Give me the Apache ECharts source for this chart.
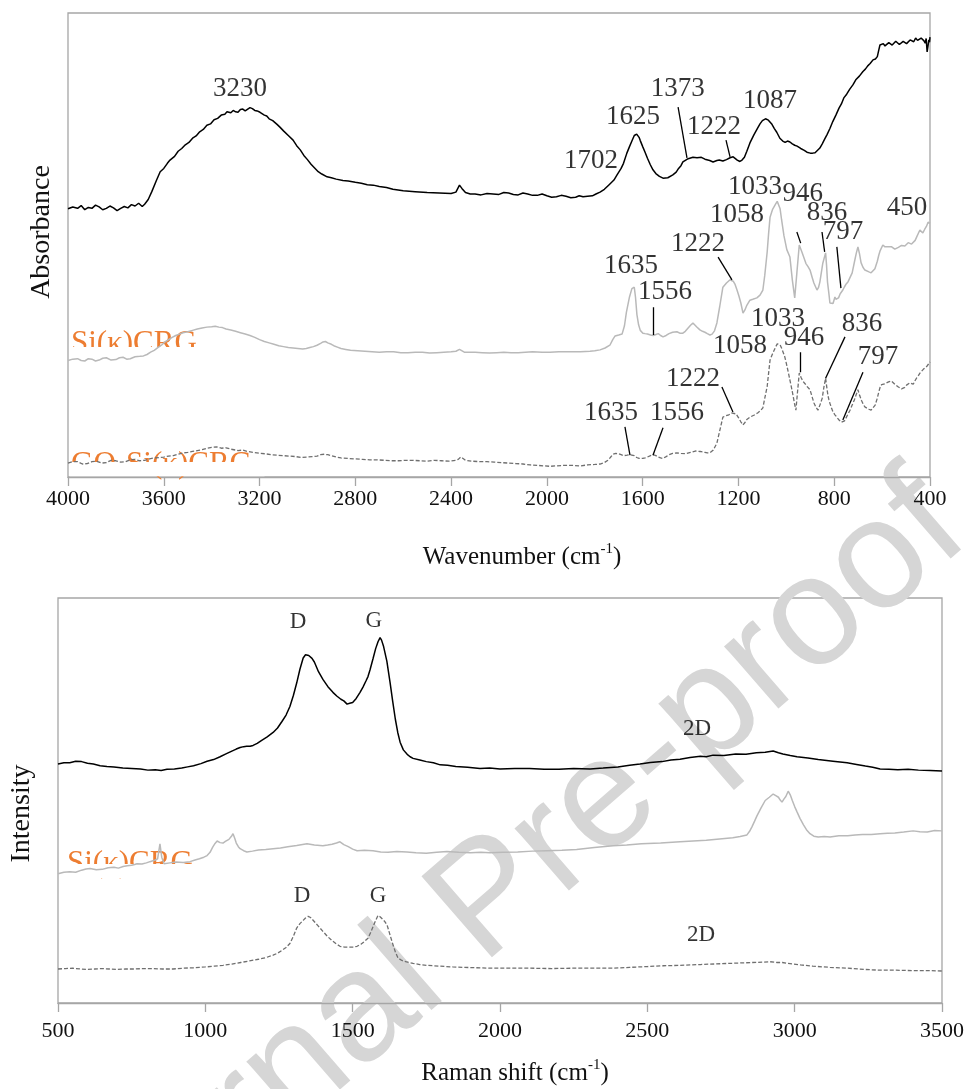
<!DOCTYPE html>
<html>
<head>
<meta charset="utf-8">
<script src="https://cdn.jsdelivr.net/npm/echarts@6/dist/echarts.min.js"></script>
<style>
  html, body { margin: 0; padding: 0; background: #ffffff; }
  #chart { width: 971px; height: 1089px; }
</style>
</head>
<body>
<div id="chart"></div>
<script>
// ---------- FTIR spectra: [wavenumber (cm-1), absorbance (a.u., offset)] ----------
const ftirBlack = [
  [4000,57.8],[3980,58.2],[3960,57.9],[3945,58.5],[3930,57.6],[3915,58.1],[3900,57.9],[3885,58.6],
  [3870,58.2],[3855,57.6],[3840,57.9],[3825,58.4],[3810,58.0],[3795,57.4],[3780,57.9],[3765,58.3],
  [3750,58.0],[3735,58.7],[3720,58.4],[3705,59.0],[3690,58.3],[3680,58.8],[3665,59.8],[3650,61.5],
  [3630,64.0],[3615,65.8],[3600,66.5],[3585,67.6],[3574,68.3],[3555,69.1],[3540,70.2],[3525,70.8],
  [3510,71.6],[3495,72.1],[3478,73.1],[3465,73.5],[3450,74.4],[3435,74.9],[3420,75.8],[3405,76.1],
  [3390,77.0],[3375,77.3],[3360,78.0],[3345,78.2],[3336,78.7],[3320,78.5],[3310,79.0],[3300,78.7],
  [3290,78.6],[3280,79.2],[3270,79.3],[3260,78.9],[3252,79.1],[3240,79.6],[3230,79.4],[3220,79.0],
  [3210,78.9],[3198,78.6],[3190,78.8],[3180,78.0],[3170,77.8],[3160,77.2],[3145,76.8],[3127,76.0],
  [3115,75.4],[3100,74.6],[3080,73.6],[3060,72.6],[3045,71.4],[3030,70.5],[3015,69.3],[3000,68.4],
  [2985,67.4],[2970,66.6],[2955,65.8],[2940,65.3],[2918,64.7],[2900,64.5],[2880,64.2],[2852,63.9],
  [2830,63.8],[2800,63.5],[2775,63.3],[2750,63.0],[2725,62.9],[2700,62.6],[2670,62.4],[2643,62.0],
  [2600,61.7],[2550,61.5],[2500,61.3],[2450,61.2],[2400,61.1],[2380,61.4],[2365,62.9],[2355,62.2],
  [2340,61.3],[2320,61.0],[2300,61.0],[2275,60.8],[2250,61.1],[2225,61.0],[2200,60.9],[2180,61.3],
  [2160,61.2],[2140,60.9],[2120,60.8],[2100,61.2],[2080,61.0],[2060,60.7],[2040,60.7],[2020,61.0],
  [2000,60.6],[1980,60.3],[1960,60.4],[1940,60.7],[1920,60.5],[1900,60.2],[1880,60.3],[1865,60.6],
  [1849,60.4],[1830,60.5],[1810,60.6],[1795,61.0],[1778,61.4],[1760,62.0],[1740,63.0],[1720,64.0],
  [1707,65.1],[1690,66.5],[1680,67.6],[1666,69.8],[1655,71.2],[1645,72.4],[1635,73.6],[1625,73.9],
  [1615,73.2],[1610,72.5],[1599,71.1],[1590,70.0],[1580,68.7],[1568,67.3],[1557,66.2],[1545,65.4],
  [1530,64.8],[1515,64.4],[1495,64.5],[1474,65.1],[1460,65.7],[1450,66.5],[1440,67.1],[1432,67.9],
  [1420,68.3],[1410,68.6],[1390,68.9],[1373,68.8],[1355,68.9],[1340,68.5],[1320,68.2],[1306,67.9],
  [1290,68.2],[1280,68.3],[1265,68.1],[1250,68.4],[1235,68.8],[1222,69.0],[1205,68.3],[1194,68.0],
  [1185,68.3],[1175,68.9],[1165,70.2],[1152,72.0],[1135,73.8],[1120,75.2],[1110,76.1],[1100,76.8],
  [1087,77.2],[1075,76.9],[1060,76.0],[1050,75.1],[1040,74.3],[1027,73.0],[1015,72.4],[1005,72.1],
  [995,72.4],[985,72.2],[975,71.8],[965,71.5],[955,71.3],[940,70.8],[925,70.4],[914,70.0],
  [900,69.8],[890,69.8],[880,69.9],[873,70.2],[860,70.9],[850,71.8],[840,72.8],[830,73.8],
  [818,75.1],[806,76.6],[793,78.0],[780,79.5],[770,80.4],[760,81.7],[748,82.5],[735,83.6],
  [722,84.5],[710,85.6],[695,86.4],[680,87.4],[670,87.9],[660,88.6],[650,89.1],[638,89.9],
  [628,90.1],[620,90.6],[614,92.0],[609,93.1],[602,93.0],[595,93.4],[588,92.9],[580,93.0],
  [572,93.6],[565,93.5],[558,93.1],[550,93.3],[543,93.9],[535,93.7],[528,93.2],[520,93.4],
  [512,93.9],[505,94.0],[498,93.4],[490,93.6],[483,94.2],[475,94.3],[468,93.8],[460,94.6],
  [452,94.1],[445,93.9],[437,94.6],[430,94.8],[425,94.0],[420,93.5],[416,94.5],[412,91.6],
  [408,93.0],[405,94.2],[402,93.7],[400,94.8]
];

const ftirGray = [
  [4000,25.1],[3980,25.4],[3960,25.5],[3945,25.1],[3930,25.0],[3915,25.5],[3900,25.4],[3885,25.0],
  [3870,25.2],[3855,25.6],[3840,25.7],[3820,25.2],[3800,25.3],[3785,25.7],[3770,25.8],[3755,25.4],
  [3740,25.5],[3720,25.9],[3700,26.0],[3685,26.1],[3670,26.4],[3655,26.9],[3640,27.3],[3625,27.9],
  [3610,28.4],[3595,29.1],[3580,29.6],[3565,30.1],[3550,30.5],[3535,30.8],[3520,31.1],[3500,31.3],
  [3480,31.6],[3460,31.9],[3440,32.1],[3420,32.3],[3400,32.4],[3385,32.5],[3370,32.3],[3355,32.2],
  [3340,31.9],[3320,31.7],[3300,31.4],[3280,31.1],[3260,30.8],[3240,30.5],[3220,30.1],[3200,29.6],
  [3180,29.2],[3160,28.9],[3140,28.6],[3120,28.3],[3100,28.1],[3080,27.9],[3060,27.8],[3040,27.7],
  [3020,27.6],[3005,27.7],[2990,27.9],[2975,28.1],[2960,28.4],[2945,28.8],[2935,29.1],[2925,29.2],
  [2915,28.9],[2900,28.6],[2890,28.3],[2875,28.0],[2860,27.7],[2840,27.5],[2820,27.3],[2790,27.2],
  [2760,27.1],[2730,27.0],[2700,26.9],[2670,27.0],[2640,27.0],[2610,26.8],[2580,26.8],[2550,26.9],
  [2520,26.9],[2490,26.7],[2460,26.8],[2430,26.9],[2400,27.0],[2380,27.1],[2365,27.5],[2345,26.9],
  [2320,26.9],[2300,26.9],[2270,26.8],[2240,26.7],[2210,26.8],[2180,26.9],[2150,26.8],[2120,26.8],
  [2090,26.9],[2060,27.0],[2020,26.9],[1987,26.9],[1950,27.0],[1900,27.0],[1860,27.0],[1820,27.1],
  [1800,27.2],[1778,27.4],[1757,27.8],[1737,28.4],[1725,29.6],[1715,30.4],[1700,30.6],[1686,30.8],
  [1676,32.6],[1668,35.5],[1655,38.8],[1645,40.6],[1635,40.9],[1630,38.8],[1624,35.0],[1617,32.8],
  [1610,31.6],[1599,31.0],[1590,30.9],[1580,30.8],[1567,30.6],[1556,30.5],[1545,30.7],[1535,30.9],
  [1525,30.5],[1515,30.2],[1502,30.5],[1490,30.9],[1475,31.2],[1457,31.3],[1445,31.0],[1432,31.0],
  [1422,31.4],[1412,32.0],[1400,32.7],[1390,33.2],[1375,32.4],[1361,31.7],[1350,31.4],[1340,31.2],
  [1330,30.9],[1319,30.6],[1310,30.8],[1300,31.5],[1290,33.2],[1278,36.8],[1265,40.9],[1250,41.8],
  [1235,42.5],[1222,42.2],[1214,41.5],[1206,40.3],[1198,39.0],[1190,37.5],[1181,35.3],[1173,36.0],
  [1165,37.0],[1152,38.1],[1140,38.3],[1123,38.6],[1110,39.2],[1098,40.3],[1090,43.5],[1080,48.5],
  [1074,52.5],[1068,56.0],[1058,57.6],[1045,58.8],[1038,59.4],[1033,59.5],[1026,57.8],[1020,55.5],
  [1010,52.0],[998,49.0],[985,47.4],[975,42.5],[965,38.6],[956,44.0],[946,50.0],[940,49.6],
  [935,48.5],[918,46.0],[910,45.4],[901,44.6],[892,43.0],[885,41.8],[872,40.3],[866,40.8],
  [860,42.0],[848,46.0],[836,48.3],[832,45.6],[828,42.0],[822,39.4],[818,37.5],[812,37.2],
  [805,37.4],[797,38.8],[793,38.3],[789,37.9],[782,38.6],[775,39.5],[764,40.3],[757,41.0],
  [750,41.6],[742,42.1],[734,42.5],[725,44.0],[715,46.5],[708,48.2],[701,49.6],[694,48.0],
  [688,46.2],[680,45.2],[672,44.6],[664,44.6],[655,44.2],[646,44.0],[638,44.0],[630,44.9],
  [620,46.5],[614,47.8],[608,48.8],[597,50.0],[588,49.6],[580,49.2],[572,49.6],[565,49.8],
  [560,49.6],[555,49.4],[547,49.1],[540,49.0],[532,49.5],[525,49.8],[519,49.9],[513,49.6],
  [505,49.8],[498,50.1],[491,50.5],[484,50.6],[477,50.2],[470,50.0],[462,51.0],[455,51.8],
  [448,52.6],[442,53.2],[436,53.0],[430,52.6],[422,53.4],[415,54.0],[408,54.9],[400,54.7]
];

const ftirDashed = [
  [4000,3.0],[3980,3.3],[3960,3.3],[3940,2.8],[3920,2.9],[3900,3.3],[3880,3.4],[3860,3.0],
  [3840,3.1],[3820,3.6],[3800,3.5],[3780,3.2],[3760,3.3],[3740,3.7],[3720,3.8],[3700,3.5],
  [3680,3.6],[3660,3.9],[3640,4.1],[3620,4.2],[3600,4.3],[3580,4.5],[3560,4.6],[3540,4.9],
  [3520,5.2],[3500,5.3],[3480,5.5],[3460,5.7],[3440,5.9],[3420,6.2],[3400,6.4],[3380,6.5],
  [3360,6.2],[3340,6.3],[3320,6.0],[3300,5.8],[3290,5.7],[3270,5.8],[3250,5.5],[3225,5.3],
  [3200,5.1],[3175,5.0],[3150,4.8],[3125,4.7],[3100,4.6],[3075,4.5],[3050,4.4],[3025,4.2],
  [3000,4.3],[2980,4.4],[2960,4.5],[2945,4.8],[2930,4.9],[2915,4.8],[2900,4.6],[2880,4.3],
  [2860,4.1],[2830,4.0],[2800,3.9],[2770,3.8],[2740,3.7],[2710,3.7],[2680,3.6],[2650,3.5],
  [2620,3.5],[2590,3.6],[2560,3.6],[2530,3.5],[2500,3.4],[2470,3.6],[2440,3.5],[2410,3.4],
  [2380,3.6],[2370,3.8],[2360,4.3],[2350,4.0],[2340,3.6],[2310,3.4],[2280,3.3],[2250,3.3],
  [2220,3.2],[2190,3.1],[2160,3.0],[2130,2.9],[2100,2.8],[2070,2.6],[2040,2.5],[2010,2.4],
  [1987,2.3],[1960,2.4],[1930,2.5],[1895,2.5],[1860,2.4],[1830,2.6],[1800,2.7],[1778,2.8],
  [1760,3.1],[1745,3.6],[1735,4.2],[1724,4.9],[1712,5.1],[1700,5.0],[1690,4.8],[1680,4.6],
  [1665,4.7],[1653,4.8],[1645,4.8],[1635,4.6],[1625,4.2],[1615,4.0],[1607,3.9],[1599,4.0],
  [1590,4.1],[1580,4.3],[1567,4.6],[1556,4.8],[1545,4.6],[1535,4.3],[1525,4.1],[1515,4.0],
  [1502,4.4],[1490,4.8],[1475,5.1],[1457,5.2],[1440,5.1],[1420,5.0],[1400,5.3],[1380,5.6],
  [1360,5.5],[1340,5.3],[1330,5.2],[1319,5.2],[1305,5.8],[1290,7.3],[1278,10.0],[1265,12.9],
  [1252,13.2],[1240,13.4],[1230,13.8],[1222,14.0],[1210,13.6],[1200,12.8],[1190,11.9],[1181,11.2],
  [1172,11.8],[1165,12.4],[1152,12.9],[1136,13.3],[1120,13.8],[1108,14.3],[1098,14.9],[1090,17.0],
  [1080,19.5],[1074,22.4],[1068,25.2],[1058,26.5],[1045,28.0],[1038,28.7],[1033,29.1],[1026,28.5],
  [1020,27.8],[1014,27.4],[1007,26.0],[1000,24.5],[992,22.6],[985,20.9],[977,18.9],[970,17.0],
  [965,15.6],[960,14.4],[953,18.5],[946,22.4],[938,21.4],[930,20.6],[922,20.1],[915,19.6],
  [908,19.2],[901,18.8],[893,17.4],[885,16.0],[876,15.0],[868,14.4],[859,15.6],[850,17.0],
  [843,19.4],[836,21.3],[831,19.3],[826,17.5],[822,16.6],[818,15.9],[811,14.8],[805,14.0],
  [797,13.4],[793,13.1],[789,12.9],[782,12.4],[776,12.1],[770,11.8],[764,11.6],[757,12.1],
  [750,12.8],[742,13.6],[734,14.4],[725,15.5],[716,16.6],[708,17.8],[701,18.8],[694,17.6],
  [686,16.5],[679,15.7],[672,15.1],[664,14.8],[655,14.6],[646,14.4],[638,14.4],[629,15.5],
  [620,17.0],[614,18.3],[608,19.4],[602,19.9],[597,20.3],[588,20.1],[580,20.0],[573,20.5],
  [567,20.8],[561,20.7],[555,20.5],[547,20.0],[540,19.6],[532,19.4],[525,19.2],[519,19.0],
  [513,18.8],[505,19.3],[498,19.8],[491,20.1],[484,20.3],[477,20.1],[470,20.0],[462,20.8],
  [455,21.4],[448,21.9],[442,22.4],[435,22.8],[428,23.2],[421,23.5],[414,23.8],[407,24.3],
  [400,24.8]
];

// ---------- Raman spectra: [Raman shift (cm-1), intensity (a.u., offset)] ----------
const ramanBlack = [
  [500,59.0],[520,59.3],[540,59.3],[560,59.7],[580,59.6],[600,59.2],[620,59.0],[643,58.6],
  [666,58.4],[690,58.3],[720,58.0],[750,57.9],[780,57.8],[805,57.5],[830,57.6],[850,57.4],
  [870,57.7],[895,57.8],[920,58.0],[940,58.3],[960,58.6],[985,59.1],[1006,59.7],[1028,60.1],
  [1050,60.8],[1070,61.5],[1090,62.2],[1105,62.7],[1118,63.1],[1130,63.3],[1140,63.4],[1152,63.4],
  [1162,63.6],[1176,64.1],[1190,64.8],[1210,65.7],[1230,66.8],[1245,67.9],[1260,69.5],[1274,71.1],
  [1287,73.2],[1299,76.0],[1310,79.0],[1321,82.4],[1332,85.2],[1340,86.0],[1346,86.4],[1351,85.8],
  [1355,86.0],[1362,85.1],[1370,84.2],[1384,81.8],[1399,79.9],[1416,78.1],[1433,76.7],[1446,75.8],
  [1460,75.0],[1470,74.6],[1481,73.8],[1490,74.0],[1500,74.2],[1512,75.2],[1525,76.7],[1535,78.0],
  [1545,79.5],[1552,80.6],[1559,82.3],[1569,85.0],[1578,87.5],[1586,89.2],[1593,90.2],[1598,89.6],
  [1605,88.0],[1616,84.4],[1627,79.1],[1636,74.4],[1645,70.0],[1653,66.8],[1661,64.4],[1672,62.5],
  [1685,61.4],[1695,60.8],[1705,60.4],[1728,60.0],[1750,59.6],[1774,59.3],[1797,58.8],[1822,58.7],
  [1850,58.4],[1890,58.2],[1932,57.9],[1965,58.0],[2000,57.8],[2050,57.9],[2100,57.9],[2150,57.7],
  [2200,57.7],[2250,57.9],[2306,57.8],[2350,58.0],[2400,58.3],[2440,58.7],[2475,59.0],[2510,59.4],
  [2550,59.6],[2580,60.0],[2611,60.2],[2645,60.6],[2680,60.9],[2700,60.8],[2723,61.2],[2760,61.1],
  [2800,61.5],[2835,61.4],[2870,61.8],[2900,61.9],[2927,62.2],[2945,61.8],[2960,61.5],[2985,61.1],
  [3008,60.8],[3045,60.5],[3080,60.1],[3130,59.7],[3178,59.3],[3210,58.9],[3240,58.5],[3265,58.2],
  [3290,57.8],[3320,57.7],[3350,57.6],[3385,57.7],[3420,57.5],[3460,57.4],[3500,57.3]
];

const ramanGray = [
  [500,31.9],[520,32.3],[540,32.4],[560,32.3],[580,32.8],[595,33.1],[609,33.2],[630,32.9],
  [650,33.0],[670,33.4],[690,33.5],[705,33.3],[721,33.7],[735,33.9],[750,34.0],[760,34.2],
  [768,34.4],[785,34.3],[800,34.6],[812,34.9],[822,35.1],[830,35.3],[838,35.6],[846,39.3],
  [852,36.0],[860,34.4],[880,34.6],[900,34.8],[925,34.7],[948,34.9],[965,35.3],[980,35.6],
  [995,36.0],[1006,36.4],[1016,37.2],[1025,38.5],[1033,39.4],[1040,40.0],[1050,39.6],[1060,39.5],
  [1068,39.9],[1074,40.0],[1080,40.4],[1085,40.8],[1090,41.3],[1094,41.8],[1100,40.6],[1105,39.5],
  [1112,38.6],[1118,38.1],[1130,37.6],[1141,37.3],[1160,37.5],[1180,37.8],[1205,37.9],[1230,38.1],
  [1255,38.3],[1280,38.6],[1310,38.9],[1345,39.3],[1370,39.0],[1399,38.8],[1415,39.0],[1430,39.2],
  [1445,39.5],[1457,39.8],[1470,39.1],[1485,38.6],[1500,38.0],[1515,37.6],[1540,37.7],[1569,37.6],
  [1595,37.3],[1620,37.2],[1650,37.4],[1684,37.3],[1715,37.1],[1750,37.0],[1785,37.2],[1820,37.4],
  [1860,37.2],[1900,37.1],[1935,37.2],[1966,37.1],[2010,37.2],[2060,37.3],[2110,37.5],[2160,37.6],
  [2210,37.7],[2260,37.9],[2320,38.4],[2384,38.8],[2430,39.0],[2480,39.3],[2545,39.5],[2611,39.8],
  [2655,40.0],[2700,40.2],[2745,40.5],[2790,40.8],[2815,41.1],[2838,41.5],[2847,42.4],[2855,43.5],
  [2864,44.9],[2872,46.2],[2886,48.2],[2900,50.0],[2914,50.8],[2927,51.6],[2936,51.2],[2945,50.8],
  [2951,50.1],[2957,49.6],[2964,50.4],[2970,51.0],[2978,52.3],[2985,51.4],[2992,50.0],[3000,48.5],
  [3008,47.2],[3018,45.6],[3030,44.0],[3040,42.8],[3052,41.8],[3065,41.2],[3080,41.0],[3100,41.1],
  [3120,41.0],[3150,41.3],[3180,41.3],[3205,41.5],[3230,41.6],[3260,41.6],[3290,41.8],[3315,41.9],
  [3340,42.0],[3370,42.2],[3402,42.5],[3425,42.3],[3450,42.2],[3475,42.6],[3500,42.5]
];

const ramanDashed = [
  [500,8.4],[525,8.5],[550,8.6],[575,8.4],[600,8.3],[625,8.4],[650,8.5],[675,8.4],
  [700,8.3],[730,8.4],[760,8.4],[790,8.5],[820,8.5],[855,8.4],[890,8.4],[925,8.6],
  [960,8.7],[980,8.8],[1000,8.9],[1030,9.1],[1060,9.3],[1090,9.6],[1120,10.0],[1150,10.4],
  [1180,10.8],[1205,11.2],[1230,11.8],[1245,12.3],[1260,13.0],[1274,13.7],[1287,14.7],[1299,16.5],
  [1310,18.5],[1321,19.6],[1332,20.4],[1340,21.0],[1349,21.4],[1357,21.1],[1365,20.5],[1382,19.1],
  [1399,17.7],[1415,16.4],[1430,15.4],[1444,14.6],[1457,14.0],[1473,13.8],[1490,13.8],[1503,13.8],
  [1515,14.0],[1528,14.5],[1540,15.2],[1546,15.6],[1552,16.0],[1561,17.4],[1570,19.0],[1578,20.4],
  [1586,21.6],[1593,21.3],[1600,20.8],[1608,20.2],[1617,19.2],[1626,17.0],[1635,14.8],[1645,12.6],
  [1654,11.1],[1667,10.5],[1680,10.2],[1692,10.0],[1705,9.8],[1728,9.5],[1750,9.3],[1774,9.2],
  [1797,9.1],[1840,8.9],[1880,8.8],[1920,8.7],[1966,8.6],[2030,8.6],[2100,8.6],[2175,8.5],
  [2250,8.6],[2320,8.6],[2384,8.6],[2440,8.8],[2500,9.0],[2555,9.2],[2611,9.3],[2680,9.5],
  [2750,9.7],[2820,9.9],[2893,10.1],[2915,10.2],[2940,10.0],[2958,10.0],[2974,9.8],[3020,9.4],
  [3062,9.1],[3120,8.8],[3180,8.6],[3235,8.3],[3290,8.1],[3345,8.1],[3400,8.0],[3450,8.0],
  [3500,7.9]
];

// ---------- Band assignments written on the plots ----------
const ftirBlackPeaks  = ['3230', '1702', '1625', '1373', '1222', '1087'];
const ftirGrayPeaks   = ['1033', '946', '1058', '836', '797', '450', '1222', '1635', '1556'];
const ftirDashedPeaks = ['1033', '1058', '946', '836', '797', '1222', '1635', '1556'];
const ramanTopBands   = ['D', 'G', '2D'];
const ramanLowBands   = ['D', 'G', '2D'];
const sampleNames     = ['Si(\u03ba)CRG', 'GO-Si(\u03ba)CRG'];

// Axis ticks
const ftirTicks  = { min: 400, max: 4000, step: 400 };
const ramanTicks = { min: 500, max: 3500, step: 500 };

// ---------- Annotation layout (data units of each panel) ----------
const ftirBlackLabelAt  = [[3282,83.6],[1816,68.1],[1640,77.6],[1453,83.6],[1302,75.4],[1068,81.0]];
const ftirGrayLabelAt   = [[1131,62.5],[931,61.0],[1206,56.5],[830,56.9],[763,52.8],[496,58.0],[1369,50.2],[1649,45.5],[1507,39.9]];
const ftirDashedLabelAt = [[1035,34.1],[1194,28.2],[926,30.0],[684,33.0],[617,25.9],[1390,21.1],[1732,13.8],[1457,13.8]];
const ramanTopLabelAt   = [[1315,94.1],[1572,94.3],[2669,67.6]];
const ramanLowLabelAt   = [[1328,26.5],[1586,26.5],[2682,16.7]];

const ftirLeaders = [
  [[1452,79.7],[1415,68.8]], [[1252,72.6],[1235,69.0]],
  [[1285,47.4],[1227,42.5]], [[1557,36.6],[1557,30.6]], [[956,52.8],[940,50.4]],
  [[851,52.8],[840,48.5]],   [[789,49.6],[772,40.7]],
  [[1269,19.4],[1223,14.0]], [[1674,10.8],[1653,4.7]],  [[1515,10.6],[1557,4.7]],
  [[940,26.9],[940,22.6]],   [[755,30.2],[836,21.3]],   [[680,22.6],[764,12.3]]
];

const SERIF = '"Liberation Serif", "Times New Roman", serif';
const AXIS_GREY = '#a6a6a6';

function labelSeries(texts, places, xi, size) {
  return {
    type: 'scatter', xAxisIndex: xi, yAxisIndex: xi, z: 6, silent: true,
    symbolSize: 1, itemStyle: { color: 'rgba(0,0,0,0)' },
    data: texts.map((t, i) => [places[i][0], places[i][1], t]),
    label: {
      show: true, position: 'inside', formatter: p => p.data[2],
      fontFamily: SERIF, fontSize: size, color: '#000'
    },
    animation: false
  };
}

function traceSeries(data, xi, color, width, dashed) {
  return {
    type: 'line', xAxisIndex: xi, yAxisIndex: xi, data: data, z: 5,
    showSymbol: false, symbol: 'none', silent: true,
    lineStyle: { color: color, width: width, type: dashed ? [4, 2] : 'solid' },
    animation: false
  };
}

function xAxisFor(grid, ticks, inverse, title, gap, labelMargin, shift) {
  return {
    gridIndex: grid, type: 'value', min: ticks.min, max: ticks.max, interval: ticks.step,
    inverse: inverse,
    axisLine: { show: true, onZero: false, lineStyle: { color: AXIS_GREY, width: 1.3 } },
    axisTick: { show: true, length: 9, lineStyle: { color: AXIS_GREY, width: 1.3 } },
    axisLabel: { fontFamily: SERIF, fontSize: 22, color: '#111', margin: labelMargin,
                 showMinLabel: true, showMaxLabel: true, formatter: v => String(v) },
    splitLine: { show: false },
    name: title, nameLocation: 'middle', nameGap: gap,
    nameTextStyle: {
      fontFamily: SERIF, fontSize: 25, color: '#111', padding: [0, 0, 0, shift], lineHeight: 30,
      rich: { sup: { fontFamily: SERIF, fontSize: 15, color: '#111', verticalAlign: 'top', lineHeight: 30 } }
    }
  };
}

function yAxisFor(grid, title, gap, pad) {
  return {
    gridIndex: grid, type: 'value', min: 0, max: 100,
    axisLine: { show: false }, axisTick: { show: false }, axisLabel: { show: false },
    splitLine: { show: false },
    name: title, nameLocation: 'middle', nameRotate: 90, nameGap: gap,
    nameTextStyle: { fontFamily: SERIF, fontSize: 28, color: '#111', padding: pad }
  };
}

const CAPTION_FONT = '31px "Liberation Serif", serif';

const option = {
  backgroundColor: '#ffffff',
  animation: false,
  grid: [
    { left: 68, top: 13, width: 862, height: 464, show: true, borderColor: AXIS_GREY, borderWidth: 1.3 },
    { left: 58, top: 598, width: 884, height: 407, show: true, borderColor: AXIS_GREY, borderWidth: 1.3 }
  ],
  xAxis: [
    xAxisFor(0, ftirTicks, true, 'Wavenumber (cm{sup|-1})', 65, 11, 46),
    xAxisFor(1, ramanTicks, false, 'Raman shift (cm{sup|-1})', 55, 17, 30)
  ],
  yAxis: [
    yAxisFor(0, 'Absorbance', 12, [0, 0, 0, 26]),
    yAxisFor(1, 'Intensity', 22, [0, 26, 0, 0])
  ],
  series: [
    traceSeries(ftirBlack, 0, '#000000', 1.5, false),
    traceSeries(ftirGray, 0, '#b9b9b9', 1.5, false),
    traceSeries(ftirDashed, 0, '#6f6f6f', 1.3, true),
    traceSeries(ramanBlack, 1, '#000000', 1.5, false),
    traceSeries(ramanGray, 1, '#b9b9b9', 1.5, false),
    traceSeries(ramanDashed, 1, '#6f6f6f', 1.3, true),
    {
      type: 'lines', coordinateSystem: 'cartesian2d', xAxisIndex: 0, yAxisIndex: 0, z: 6,
      silent: true, polyline: false,
      lineStyle: { color: '#000', width: 1.3, opacity: 1 },
      data: ftirLeaders.map(seg => ({ coords: seg })),
      animation: false
    },
    labelSeries(ftirBlackPeaks, ftirBlackLabelAt, 0, 27),
    labelSeries(ftirGrayPeaks, ftirGrayLabelAt, 0, 27),
    labelSeries(ftirDashedPeaks, ftirDashedLabelAt, 0, 27),
    labelSeries(ramanTopBands, ramanTopLabelAt, 1, 23),
    labelSeries(ramanLowBands, ramanLowLabelAt, 1, 23)
  ],
  graphic: [
    // "Journal Pre-proof" stamp behind the spectra
    {
      type: 'text', x: 490, y: 902, rotation: 41 * Math.PI / 180, z: 0, silent: true,
      style: {
        text: 'Journal Pre-proof', font: '156px "Liberation Sans", Arial, sans-serif',
        fill: '#d6d6d6', textAlign: 'center', textVerticalAlign: 'middle'
      }
    },
    // sample captions, lower part masked by their text boxes
    { type: 'text', x: 71, y: 359, z: 1, silent: true,
      style: { text: sampleNames[0], font: CAPTION_FONT, fill: '#ED7D31', textAlign: 'left', textVerticalAlign: 'bottom' } },
    { type: 'rect', shape: { x: 69.5, y: 347, width: 140, height: 14 }, z: 2, silent: true, style: { fill: '#ffffff' } },
    { type: 'text', x: 71, y: 480, z: 1, silent: true,
      style: { text: sampleNames[1], font: CAPTION_FONT, fill: '#ED7D31', textAlign: 'left', textVerticalAlign: 'bottom' } },
    { type: 'rect', shape: { x: 69.5, y: 462, width: 195, height: 14.3 }, z: 2, silent: true, style: { fill: '#ffffff' } },
    { type: 'text', x: 67, y: 879, z: 1, silent: true,
      style: { text: sampleNames[0], font: CAPTION_FONT, fill: '#ED7D31', textAlign: 'left', textVerticalAlign: 'bottom' } },
    { type: 'rect', shape: { x: 59.5, y: 864, width: 140, height: 14 }, z: 2, silent: true, style: { fill: '#ffffff' } }
  ]
};

const chart = echarts.init(document.getElementById('chart'), null, { renderer: 'canvas' });
chart.setOption(option);
</script>
</body>
</html>
